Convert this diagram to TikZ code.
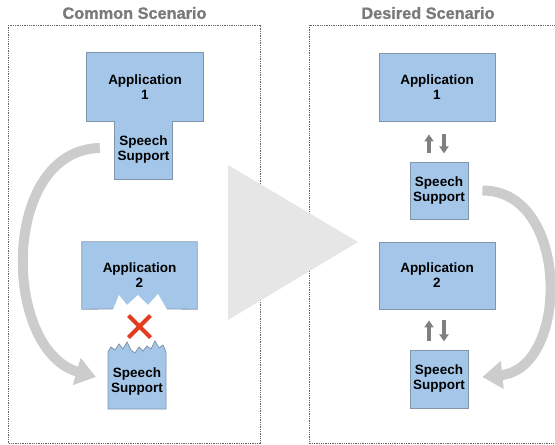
\documentclass[tikz,border=0pt]{standalone}
\usepackage{fontspec}
\setmainfont{Liberation Sans}
\newfontfamily\headingfont[FakeBold=1.2]{Liberation Sans Bold}
\usetikzlibrary{arrows.meta}
\definecolor{boxfill}{RGB}{164,199,233}
\definecolor{boxedge}{RGB}{128,148,170}
\definecolor{titlegray}{RGB}{122,122,122}
\definecolor{linkgray}{RGB}{128,128,128}
\definecolor{flowgray}{RGB}{204,204,204}
\definecolor{bigarrow}{RGB}{230,230,230}
\definecolor{crossred}{RGB}{226,60,30}
\definecolor{framegray}{RGB}{100,100,100}
\begin{document}
\begin{tikzpicture}[x=1pt,y=-1pt,
  lbl/.style={font=\bfseries\fontsize{13.5}{15}\selectfont, align=center, text=black, inner sep=0pt},
  block/.style={lbl, draw=boxedge, fill=boxfill, line width=0.8pt},
  edge/.style={draw=boxedge, line width=0.8pt},
  frame/.style={draw=framegray, line width=0.7pt, dash pattern=on 1.3pt off 1pt},
  title/.style={font=\headingfont\fontsize{16.3}{18}\selectfont, text=titlegray, inner sep=0pt},
  flow/.style={draw=flowgray, line width=10pt, -{Triangle[width=27pt,length=20pt]}},
  link/.style={draw=linkgray, line width=3.5pt, -{Triangle[width=9pt,length=7pt]}}]
\useasboundingbox (0,0) rectangle (555,445);

% scenario frames and headings (the right frame runs past the page edge)
\draw[frame] (8,25) rectangle (260,443);
\draw[frame] (560,25) -- (309,25) -- (309,443) -- (560,443);
\node[title] (titleL) at (134.5,13) {Common Scenario};
\node[title] (titleR) at (428,13) {Desired Scenario};

% transition arrow between the scenarios
\fill[bigarrow] (228,165) -- (358,242) -- (228,320) -- cycle;

% ---- common scenario ----
% application 1 with its own speech support (T-shaped block)
\node[lbl, fill=boxfill, minimum width=116pt, minimum height=68pt] (app1L) at (145,87) {Application\\1};
\node[lbl, fill=boxfill, minimum width=57pt, minimum height=58pt] (speechL1) at (143.5,150) {Speech\\Support};
\draw[edge] (app1L.north west) -- (app1L.north east) -- (app1L.south east)
  -- (speechL1.north east |- app1L.south) -- (speechL1.south east) -- (speechL1.south west)
  -- (speechL1.north west |- app1L.south) -- (app1L.south west) -- cycle;

% application 2, torn off at the bottom
\node[lbl, fill=boxfill, minimum width=115pt, minimum height=67pt] (app2L) at (139.5,275.5) {Application\\2};
\fill[white] (113,309.6) -- (119,295) -- (127,305) -- (138,295) -- (148,305) -- (158,294) -- (167,309.6) -- cycle;
\draw[edge] (113,309) -- (app2L.south west) -- (app2L.north west) -- (app2L.north east)
  -- (app2L.south east) -- (167,309);

% detached speech support, torn at the top
\filldraw[edge, fill=boxfill] (108,352) -- (111,347) -- (115,350) -- (119,344) -- (123,349)
  -- (127,342) -- (131,350) -- (135,353) -- (139,347) -- (143,351) -- (147,346)
  -- (151,349) -- (155,341) -- (159,348) -- (163,345) -- (166,352)
  -- (166,409) -- (108,409) -- cycle;
\node[lbl] (speechL2) at (137,382) {Speech\\Support};

% broken link
\coordinate (cross) at (139.5,326.5);
\draw[crossred, line width=4pt] ([shift={(-11,-11)}]cross) -- ([shift={(11,11)}]cross)
  ([shift={(11,-11)}]cross) -- ([shift={(-11,11)}]cross);

% speech support moved from application 1 to application 2
\draw[flow] ([shift={(-15,-2)}]speechL1.west) .. controls (0,150) and (2,350) .. ([shift={(-15,-5)}]speechL2.west);

% ---- desired scenario ----
\node[block, minimum width=116pt, minimum height=68pt] (app1R) at (437,87) {Application\\1};
\node[block, minimum width=58pt, minimum height=57pt] (speechR1) at (439,190.5) {Speech\\Support};
\node[block, minimum width=116pt, minimum height=67pt] (app2R) at (437,275.5) {Application\\2};
\node[block, minimum width=58pt, minimum height=58pt] (speechR2) at (439,379) {Speech\\Support};

\draw[link] ([shift={(-8,32)}]app1R.south) -- ([shift={(-8,13)}]app1R.south);
\draw[link] ([shift={(7,13)}]app1R.south) -- ([shift={(7,32)}]app1R.south);
\draw[link] ([shift={(-8,32)}]app2R.south) -- ([shift={(-8,11)}]app2R.south);
\draw[link] ([shift={(7,11)}]app2R.south) -- ([shift={(7,32)}]app2R.south);

\draw[flow] ([shift={(14,0)}]speechR1.east) .. controls (570,190) and (570,368) .. ([shift={(14,-2)}]speechR2.east);
\end{tikzpicture}
\end{document}
